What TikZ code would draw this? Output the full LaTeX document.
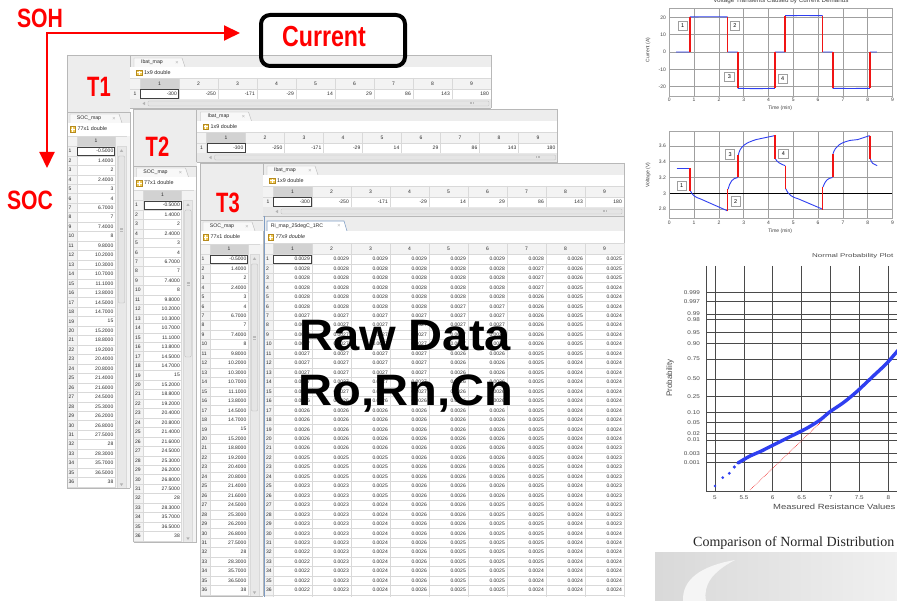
\documentclass[tikz,border=0pt]{standalone}
\usepackage{graphicx}
\usepackage{fontspec}
\setmainfont{Liberation Sans}
\newfontfamily\captionserif{Liberation Serif}
\usetikzlibrary{arrows.meta}

\definecolor{panelbg}{HTML}{EDEDED}
\definecolor{hdrbg}{HTML}{F3F3F3}
\definecolor{selhdr}{HTML}{D2D2D2}
\definecolor{cellline}{HTML}{D9D9D9}
\definecolor{framecol}{HTML}{B8B8B8}
\definecolor{celltext}{HTML}{2A2A2A}
\definecolor{tabface}{HTML}{F8F8F8}
\definecolor{scrollbg}{HTML}{E8E8E8}
\definecolor{iconyel}{HTML}{F3CD5A}
\definecolor{iconedge}{HTML}{B58A1E}
\definecolor{tabblue}{HTML}{7D9CC4}
\definecolor{plotblue}{HTML}{2F3FF0}
\definecolor{plotred}{HTML}{F01414}
\definecolor{gridgray}{HTML}{4A4A4A}
\definecolor{labred}{HTML}{FF0000}

% SOC break points (77x1 map, first 36 rows)
\def\soclist{-0.5000,1.4000,2,2.4000,3,4,6.7000,7,7.4000,8,9.8000,10.2000,10.3000,10.7000,11.1000,13.8000,14.5000,14.7000,15,15.2000,18.8000,19.2000,20.4000,20.8000,21.4000,21.6000,24.5000,25.3000,26.2000,26.8000,27.5000,28,28.3000,35.7000,36.5000,38}

% Ri map at 25 degC, last two digits of 0.00xx
\def\rilist{%
{29,29,29,29,29,29,28,26,25},{28,28,28,28,28,28,27,26,25},{28,28,28,28,28,28,27,26,25},%
{28,28,28,28,28,28,27,25,24},{28,28,28,28,28,28,26,25,24},{28,28,28,28,27,27,26,25,24},%
{27,27,27,27,27,27,26,25,24},{27,27,27,27,27,27,26,25,24},{27,27,27,27,27,27,26,25,24},%
{27,27,27,27,27,26,26,25,24},{27,27,27,27,26,26,25,25,24},{27,27,27,27,26,26,25,24,24},%
{27,27,27,27,26,26,25,24,24},{27,27,27,27,26,26,25,24,24},{27,27,27,27,26,26,25,24,24},%
{26,26,26,26,26,26,25,24,24},{26,26,26,26,26,26,25,24,24},{26,26,26,26,26,26,25,24,24},%
{26,26,26,26,26,26,25,24,24},{26,26,26,26,26,26,25,24,24},{26,26,26,26,26,26,25,24,23},%
{25,25,25,26,26,26,25,24,23},{25,25,25,26,26,26,25,24,23},{25,25,25,26,26,26,25,24,23},%
{23,23,25,26,26,26,25,24,23},{23,23,25,26,26,26,25,24,23},{23,23,24,26,26,25,25,24,23},%
{23,23,24,26,26,25,25,24,23},{23,23,24,26,26,25,25,24,23},{23,23,24,26,26,25,25,24,24},%
{23,23,24,26,25,25,25,24,24},{22,23,24,26,25,25,25,24,24},{22,23,24,26,25,25,25,24,24},%
{22,23,24,26,25,25,24,24,24},{22,23,24,26,25,25,24,24,24},{22,23,24,26,25,25,24,24,24}}

\tikzset{
  celltxt/.style={font=\fontsize{5}{5}\selectfont, text=celltext, inner sep=0pt},
  valnode/.style={celltxt, anchor=east},
  rownode/.style={celltxt, anchor=west},
  hdrnode/.style={celltxt, anchor=center},
  tabtxt/.style={font=\fontsize{5.2}{5}\selectfont, text=celltext, inner sep=0pt},
  closetxt/.style={font=\fontsize{5.5}{5}\selectfont, text=gray!65, inner sep=0pt},
  infotxt/.style={font=\fontsize{5.4}{5}\selectfont, text=celltext, inner sep=0pt, anchor=west},
  gridicon/.style={minimum size=5.5pt, inner sep=0pt, draw=iconedge, line width=0.3pt, fill=iconyel,
    path picture={\draw[white, line width=0.45pt]
      (path picture bounding box.north) -- (path picture bounding box.south)
      (path picture bounding box.west) -- (path picture bounding box.east);}},
  cellrule/.style={draw=cellline, line width=0.35pt},
  framerule/.style={draw=framecol, line width=0.45pt},
  selcell/.style={draw=black!75, line width=0.55pt},
  thumb/.style={draw=gray!55, fill=gray!20, line width=0.35pt, rounded corners=1pt},
  bigred/.style={text=labred, inner sep=0pt, font=\bfseries\fontsize{#1}{#1}\selectfont},
  bigblack/.style={text=black, inner sep=0pt, anchor=base, font=\bfseries\fontsize{44}{44}\selectfont},
  axisarrow/.style={draw=labred, line width=2pt, {Triangle[length=16pt,width=15pt]}-{Triangle[length=16pt,width=15pt]}},
  curbox/.style={draw=black, line width=4pt, rounded corners=9pt, minimum width=144pt, minimum height=51pt, inner sep=0pt},
  pgrid/.style={draw=gray!75, line width=0.6pt},
  pzero/.style={draw=black, line width=0.8pt},
  pframe/.style={draw=gray!70, line width=0.6pt},
  ptick/.style={font=\fontsize{5}{5}\selectfont, text=black!75, inner sep=0pt},
  pbox/.style={draw=gray!75, line width=0.7pt, fill=white, font=\fontsize{5.5}{5}\selectfont, inner sep=0pt, minimum size=9.5pt},
  bluetrace/.style={draw=plotblue, line width=0.9pt},
  redstep/.style={draw=plotred, line width=1.7pt},
  npgrid/.style={draw=gridgray, line width=0.9pt},
  nptick/.style={font=\fontsize{5.5}{5}\selectfont, text=black!70, inner sep=0pt},
}

% one temperature sheet: label cell, Ibat_map pane and SOC_map pane
\newcommand\Tpanel[3]{%
\begin{scope}[shift={(#1,#2)}]
  \fill[panelbg] (67,55) rectangle (491,108);
  \fill[panelbg] (67,108) rectangle (130,112);
  \draw[framerule] (67,55) -- (491,55) (67,55) -- (67,112) (130,55) -- (130,108);
  % Ibat_map tab
  \filldraw[framerule, fill=tabface] (134,67) -- (134,58) -- (182,58) -- (185,67);
  \draw[framerule] (130,67) -- (134,67) (185,67) -- (491,67);
  \node[tabtxt] (#3-itab) at (152,62.5) {Ibat\_map};
  \node[closetxt] (#3-ix) at (177,62.5) {×};
  \fill[white] (130.2,67.3) rectangle (491,78);
  \node[gridicon] (#3-iicon) at (139,72.5) {};
  \node[infotxt] (#3-iinfo) at (144,72.5) {1x9 double};
  % header and value rows
  \fill[hdrbg] (130.2,78) rectangle (491,99);
  \fill[selhdr] (140,78) rectangle (179,89);
  \fill[white] (140,89) rectangle (491,99);
  \foreach \k in {0,...,9} \draw[cellrule] (140+39*\k,78) -- (140+39*\k,99);
  \draw[cellrule] (130,78) -- (491,78) (130,89) -- (491,89) (130,99) -- (491,99);
  \foreach \k in {1,...,9} \node[hdrnode] (#3-ih\k) at (120.5+39*\k,83.5) {\k};
  \node[rownode] (#3-ir) at (133.5,94) {1};
  \foreach \v [count=\k] in {-300,-250,-171,-29,14,29,86,143,180}
    \node[valnode] (#3-iv\k) at (138+39*\k,94) {\v};
  \draw[selcell] (140.5,89.5) rectangle (178.5,98.5);
  % horizontal scroll bar
  \fill[scrollbg] (130.2,99.2) rectangle (491,108);
  \fill[gray!60] (142.5,103.5) -- (145,101.8) -- (145,105.2) -- cycle;
  \draw[thumb] (148,101) rectangle (489,106);
  \draw[gray!55, line width=0.3pt] (470,102.5) -- (470,104.5) (471.5,102.5) -- (471.5,104.5) (473,102.5) -- (473,104.5);
  \draw[framerule] (130,108) -- (491,108) (491,55) -- (491,108);
  % SOC_map pane
  \fill[panelbg] (67,112) rectangle (130,123);
  \draw[framerule] (67,112) -- (130,112);
  \filldraw[framerule, fill=tabface] (70,123) -- (70,114) -- (119,114) -- (122,123);
  \node[tabtxt] (#3-stab) at (89,118.5) {SOC\_map};
  \node[closetxt] (#3-sx) at (114,118.5) {×};
  \fill[white] (67.2,123) rectangle (130,136);
  \node[gridicon] (#3-sicon) at (72.5,129) {};
  \node[infotxt] (#3-sinfo) at (77.5,129) {77x1 double};
  \fill[hdrbg] (67.2,136) rectangle (130,488);
  \fill[selhdr] (77,136) rectangle (115,146.3);
  \fill[white] (77,146.3) rectangle (115,488);
  \foreach \i in {0,...,36} \draw[cellrule] (67,146.3+9.46*\i) -- (115,146.3+9.46*\i);
  \draw[cellrule] (67,136) -- (127,136) (77,136) -- (77,488) (115,136) -- (115,488);
  \node[hdrnode] (#3-sh) at (96,141.2) {1};
  \foreach \v [count=\i] in \soclist {
    \node[rownode] (#3-sn\i) at (68.3,151+9.46*\i-9.46) {\i};
    \node[valnode] (#3-sv\i) at (113.5,151+9.46*\i-9.46) {\v};
  }
  \draw[selcell] (77.5,146.8) rectangle (114.5,155.3);
  % vertical scroll bar
  \draw[cellrule, fill=scrollbg] (117,146.3) rectangle (126,488);
  \fill[gray!60] (121.5,149.3) -- (119.8,152) -- (123.2,152) -- cycle;
  \draw[thumb] (118.3,156) rectangle (124.7,303);
  \draw[gray!55, line width=0.3pt] (120,228) -- (123,228) (120,229.5) -- (123,229.5) (120,231) -- (123,231);
  \fill[gray!60] (121.5,486) -- (119.8,483.3) -- (123.2,483.3) -- cycle;
  \draw[framerule] (67,488) -- (130,488) (130,112) -- (130,488) (67,112) -- (67,488);
\end{scope}}

\begin{document}
\begin{tikzpicture}[x=1pt, y=-1pt]
\useasboundingbox (0,0) rectangle (897,601);
\clip (0,0) rectangle (897,601);
\fill[white] (0,0) rectangle (897,601);

% ---------- three temperature sheets ----------
\Tpanel{0}{0}{ta}
\Tpanel{66.5}{54}{tb}
\Tpanel{133}{108}{tc}

% Ri_map pane of the third sheet
\fill[panelbg] (263,216) rectangle (624,231);
\draw[framerule] (263,216) -- (624,216) (624,216) -- (624,597);
\draw[framerule] (347,231) -- (624,231);
\filldraw[draw=tabblue, line width=0.55pt, fill=white] (267,231) -- (267,221) -- (344,221) -- (347,231);
\node[tabtxt] (ri-tab) at (297,226) {Ri\_map\_25degC\_1RC};
\node[closetxt] (ri-x) at (339,226) {×};
\fill[white] (265,231.3) rectangle (624,243);
\node[gridicon] (ri-icon) at (270.5,237) {};
\node[infotxt, font=\fontsize{5.4}{5}\selectfont\itshape] (ri-info) at (275.5,237) {77x9 double};
\fill[hdrbg] (265,243) rectangle (624,597);
\fill[selhdr] (273,243) rectangle (312,254.27);
\fill[white] (273,254.27) rectangle (624,597);
\foreach \k in {0,...,9} \draw[cellrule] (273+39*\k,243) -- (273+39*\k,597);
\foreach \i in {0,...,36} \draw[cellrule] (265,254.27+9.46*\i) -- (624,254.27+9.46*\i);
\draw[cellrule] (265,243) -- (624,243);
\foreach \k in {1,...,9} \node[hdrnode] (ri-h\k) at (253.5+39*\k,248.7) {\k};
\foreach \r [count=\i] in \rilist {
  \node[rownode] (ri-n\i) at (266,259+9.46*\i-9.46) {\i};
  \foreach \v [count=\j] in \r
    \node[valnode] (ri-\i-\j) at (271+39*\j,259+9.46*\i-9.46) {0.00\v};
}
\draw[selcell] (273.5,254.8) rectangle (311.5,263.3);
\draw[tabblue, line width=0.7pt] (264.5,216) -- (264.5,597);

% sheet labels
\node[bigred=28] (t1) at (99,87) {\scalebox{0.72}[1]{T1}};
\node[bigred=28] (t2) at (157.5,147) {\scalebox{0.72}[1]{T2}};
\node[bigred=28] (t3) at (228,203) {\scalebox{0.72}[1]{T3}};

% ---------- axes of the map ----------
\node[bigred=26.5] (soh) at (40,18) {\scalebox{0.8}[1]{SOH}};
\node[bigred=26.5] (soc) at (30,200.5) {\scalebox{0.8}[1]{SOC}};
\coordinate (hEnd) at (240,33);
\coordinate (vEnd) at (47,168);
\draw[axisarrow] (vEnd) |- (hEnd);
\node[curbox] (curframe) at (333,40.5) {};
\node[bigred=29] (curtext) at (324,37) {\scalebox{0.8}[1]{Current}};

% ---------- overlay title ----------
\node[bigblack] (raw) at (405,351) {\scalebox{1.07}[1]{Raw Data}};
\node[bigblack] (params) at (406,406) {\scalebox{1.07}[1]{Ro,Rn,Cn}};

% ---------- current profile ----------
\begin{scope}[shift={(669.3,52)}, x=24.8pt, y=1.73pt]
  \node[ptick, anchor=base, font=\fontsize{6.3}{6}\selectfont] (ia-title) at (4.5,28.4) {Voltage Transients Caused by Current Demands};
  \foreach \t in {1,...,8} \draw[pgrid] (\t,-25.4) -- (\t,25.4);
  \foreach \v in {-20,-10,0,10,20} \draw[pgrid] (0,\v) -- (9,\v);
  \draw[pframe] (0,-25.4) rectangle (9,25.4);
  \foreach \t in {0,...,9} \node[ptick] (ia-x\t) at (\t,-27.7) {\t};
  \foreach \v [count=\n] in {-20,-10,0,10,20} \node[ptick, anchor=east] (ia-y\n) at (-0.13,\v) {\v};
  \node[ptick] (ia-xl) at (4.47,-32.4) {Time (min)};
  \node[ptick, rotate=90] (ia-yl) at (-0.86,1.2) {Current (A)};
  \draw[bluetrace] (0.27,0) -- (0.83,0) (0.83,20.3) -- (1.6,20.4) -- (2.35,20.3)
    (2.35,0) -- (2.76,0) (2.76,-21) -- (3.5,-21.2) -- (4.26,-21)
    (4.26,0) -- (4.67,0) (4.67,21) -- (5.4,21.1) -- (6.18,21)
    (6.18,0) -- (6.59,0) (6.59,-21) -- (7.3,-21.1) -- (8.09,-21) (8.09,0) -- (8.37,0);
  \draw[redstep] (0.83,0) -- (0.83,20.3) (2.35,20.3) -- (2.35,0) (2.76,0) -- (2.76,-21)
    (4.26,-21) -- (4.26,0) (4.67,0) -- (4.67,21) (6.18,21) -- (6.18,0)
    (6.59,0) -- (6.59,-21) (8.09,-21) -- (8.09,0);
  \node[pbox] (ia-m1) at (0.54,15) {1};
  \node[pbox] (ia-m2) at (2.65,15) {2};
  \node[pbox] (ia-m3) at (2.42,-14.3) {3};
  \node[pbox] (ia-m4) at (4.57,-15.6) {4};
\end{scope}

% ---------- voltage response ----------
\begin{scope}[shift={(669.3,430.3)}, x=24.8pt, y=79pt]
  \foreach \t in {1,...,8} \draw[pgrid] (\t,2.68) -- (\t,3.79);
  \foreach \v in {2.8,3.2,3.4,3.6} \draw[pgrid] (0,\v) -- (9,\v);
  \draw[pzero] (0,3) -- (9,3);
  \draw[pframe] (0,2.68) rectangle (9,3.79);
  \foreach \t in {0,...,9} \node[ptick] (va-x\t) at (\t,2.63) {\t};
  \foreach \v [count=\n] in {2.8,3,3.2,3.4,3.6} \node[ptick, anchor=east] (va-y\n) at (-0.13,\v) {\v};
  \node[ptick] (va-xl) at (4.47,2.52) {Time (min)};
  \node[ptick, rotate=90] (va-yl) at (-0.86,3.23) {Voltage (V)};
  \draw[bluetrace] (0.3,3.32) -- (0.83,3.32);
  \draw[bluetrace] (0.85,3.03) .. controls (0.95,2.97) and (1.05,2.95) .. (1.25,2.93) -- (2.33,2.78);
  \draw[bluetrace] (2.37,3.05) .. controls (2.45,3.15) and (2.55,3.19) .. (2.76,3.2);
  \draw[bluetrace] (2.78,3.48) .. controls (2.85,3.6) and (3.1,3.64) .. (3.5,3.68) -- (4.25,3.73);
  \draw[bluetrace] (4.27,3.44) .. controls (4.35,3.39) and (4.5,3.37) .. (4.67,3.35);
  \draw[bluetrace] (4.69,3.06) .. controls (4.8,2.98) and (4.95,2.95) .. (5.2,2.93) -- (6.17,2.8);
  \draw[bluetrace] (6.2,3.08) .. controls (6.3,3.17) and (6.4,3.19) .. (6.58,3.2);
  \draw[bluetrace] (6.6,3.5) .. controls (6.7,3.6) and (6.9,3.64) .. (7.3,3.67) -- (7.6,3.68) -- (8.08,3.73);
  \draw[bluetrace] (8.1,3.44) .. controls (8.15,3.38) and (8.25,3.36) .. (8.38,3.35);
  \draw[redstep] (0.83,3.32) -- (0.83,3.03) (2.35,2.77) -- (2.35,3.05) (2.77,3.2) -- (2.77,3.48)
    (4.26,3.74) -- (4.26,3.44) (4.68,3.35) -- (4.68,3.06) (6.18,2.79) -- (6.18,3.08)
    (6.59,3.2) -- (6.59,3.5) (8.09,3.73) -- (8.09,3.44);
  \node[pbox] (va-m1) at (0.5,3.096) {1};
  \node[pbox] (va-m2) at (2.68,2.9) {2};
  \node[pbox] (va-m3) at (2.45,3.49) {3};
  \node[pbox] (va-m4) at (4.6,3.5) {4};
\end{scope}

% ---------- normal probability plot of the resistance ----------
\node[nptick, anchor=west] (np-title) at (812,256) {\scalebox{1.45}[1]{Normal Probability Plot}};
\foreach \xx in {715,744,772.7,801.7,830.7,859.3,888.3} \draw[npgrid] (\xx,266) -- (\xx,491.7);
\foreach \yy in {292.3,301.7,314,319.3,332.3,343.3,359,379,396.7,412.7,422.3,433.3,440,453.3,462.7}
  \draw[npgrid] (706.7,\yy) -- (897,\yy);
\draw[npgrid] (706.7,266) -- (706.7,491.7) -- (897,491.7);
\foreach \yy/\lab [count=\n] in {292.3/0.999,301.7/0.997,314/0.99,319.3/0.98,332.3/0.95,343.3/0.90,359/0.75,379/0.50,396.7/0.25,412.7/0.10,422.3/0.05,433.3/0.02,440/0.01,453.3/0.003,462.7/0.001}
  \node[nptick, anchor=east] (np-y\n) at (700,\yy) {\scalebox{1.15}[1]{\lab}};
\foreach \xx/\lab [count=\n] in {715/5,744/5.5,772.7/6,801.7/6.5,830.7/7,859.3/7.5,888.3/8}
  \node[nptick] (np-x\n) at (\xx,497.5) {\scalebox{1.15}[1]{\lab}};
\node[nptick, rotate=90, font=\fontsize{8}{8}\selectfont] (np-yl) at (670,378) {Probability};
\node[nptick, anchor=west, font=\fontsize{7.5}{8}\selectfont] (np-xl) at (773,508) {\scalebox{1.26}[1]{Measured Resistance Values (m$\Omega$)}};
\draw[plotred, densely dotted, line width=0.6pt] (750,490) -- (822,421);
\draw[plotblue, line width=3.4pt, line cap=round] plot[smooth] coordinates
  {(738,463) (750,456) (760,451.7) (773.3,445) (790,436.7) (806.7,428.3) (820,420) (830,411.7)
   (843.3,402.7) (856.7,391.7) (873.3,376) (886.7,363.3) (900,348)};
\foreach \px/\py/\rr in {715/486/1.3,722.7/477.7/1.5,729.3/473.3/1.6,734.3/467/1.8}
  \fill[plotblue] (\px,\py) circle[radius=\rr];
\node[anchor=west, inner sep=0pt, text=black!85, font=\captionserif\fontsize{14}{14}\selectfont] (np-caption) at (693,543) {Comparison of Normal Distribution};

% page background below the caption
\shade[left color=gray!30, right color=gray!12] (655,552) rectangle (897,601);
\fill[white!92!gray] (683,601) .. controls (682,580) and (700,566) .. (735,560)
  .. controls (712,572) and (703,585) .. (706,601) -- cycle;
\end{tikzpicture}
\end{document}
